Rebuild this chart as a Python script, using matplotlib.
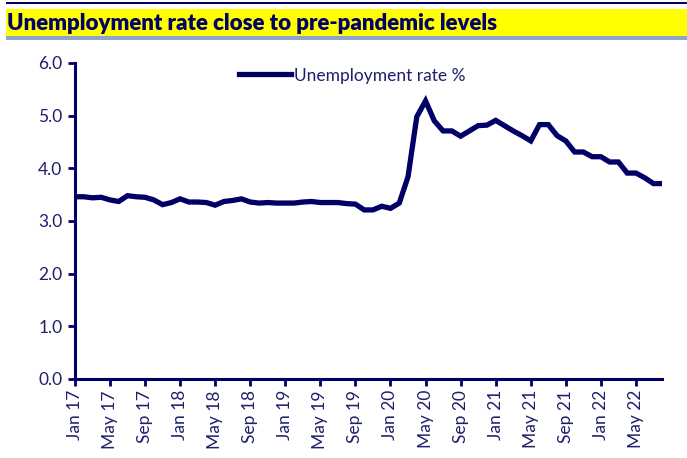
import numpy as np
import matplotlib
matplotlib.use("Agg")
from matplotlib import pyplot as plt
from matplotlib.patches import Rectangle
from matplotlib.lines import Line2D

# DATA
months = ['Jan', 'Feb', 'Mar', 'Apr', 'May', 'Jun', 'Jul', 'Aug', 'Sep', 'Oct', 'Nov', 'Dec']
years = ['17', '18', '19', '20', '21', '22']
rate_2017 = [3.46, 3.46, 3.44, 3.45, 3.40, 3.37, 3.48, 3.46, 3.45, 3.40, 3.31, 3.35]
rate_2018 = [3.42, 3.36, 3.36, 3.35, 3.30, 3.37, 3.39, 3.42, 3.36, 3.34, 3.35, 3.34]
rate_2019 = [3.34, 3.34, 3.36, 3.37, 3.35, 3.35, 3.35, 3.33, 3.32, 3.21, 3.21, 3.28]
rate_2020 = [3.24, 3.34, 3.84, 4.98, 5.28, 4.90, 4.71, 4.71, 4.61, 4.71, 4.81, 4.82]
rate_2021 = [4.91, 4.81, 4.71, 4.62, 4.52, 4.83, 4.83, 4.62, 4.52, 4.31, 4.31, 4.22]
rate_2022 = [4.22, 4.12, 4.12, 3.91, 3.91, 3.82, 3.71, 3.71]

rate = rate_2017 + rate_2018 + rate_2019 + rate_2020 + rate_2021 + rate_2022
labels = [m + ' ' + y for y in years for m in months][:len(rate)]
x = np.arange(len(rate))

NAVY = '#000066'
TEXT = '#1f1f6b'

plt.rcParams['font.family'] = ['Lato', 'DejaVu Sans']

fig = plt.figure(figsize=(6.87, 4.58), dpi=100)
ax = fig.add_axes([0.109, 0.1725, 0.855, 0.690])

ax.plot(x, rate, color=NAVY, linewidth=3.8, solid_joinstyle='miter')

ax.set_xlim(0, len(rate) - 1)
ax.set_ylim(0, 6)
ax.set_yticks(np.arange(0, 6.1, 1.0))
ax.set_yticklabels(['%.1f' % v for v in np.arange(0, 6.1, 1.0)])
ax.set_xticks(x[::4])
ax.set_xticklabels(labels[::4], rotation=90)

for side in ['top', 'right']:
    ax.spines[side].set_visible(False)
for side in ['left', 'bottom']:
    ax.spines[side].set_color(NAVY)
    ax.spines[side].set_linewidth(2.2)
ax.tick_params(axis='both', colors=NAVY, width=2, length=5, direction='out')
ax.tick_params(axis='y', labelsize=12.5, labelcolor=TEXT, pad=4)
ax.tick_params(axis='x', labelsize=12.5, labelcolor=TEXT, pad=3)

# legend
handle = Line2D([0], [0], color=NAVY, linewidth=3.8)
leg = ax.legend([handle], ['Unemployment rate %'], loc='upper center',
                bbox_to_anchor=(0.472, 1.035), frameon=False, fontsize=12.5,
                handlelength=3.0, handletextpad=0.2, labelcolor=TEXT)

# title bar
fig.patches.append(Rectangle((6 / 687, 1 - 3.7 / 458), 1, 1.7 / 458,
                             transform=fig.transFigure, color=NAVY, lw=0))
fig.patches.append(Rectangle((6 / 687, 1 - 36 / 458), 1, 27 / 458,
                             transform=fig.transFigure, color='#ffff00', lw=0))
fig.patches.append(Rectangle((6 / 687, 1 - 40 / 458), 1, 4 / 458,
                             transform=fig.transFigure, color='#8ea3cf', lw=0))
fig.text(7 / 687, 1 - 30.5 / 458, 'Unemployment rate close to pre-pandemic levels',
         fontsize=16, fontweight='heavy', color=NAVY, ha='left', va='baseline')

fig.savefig('out.png', dpi=100)
